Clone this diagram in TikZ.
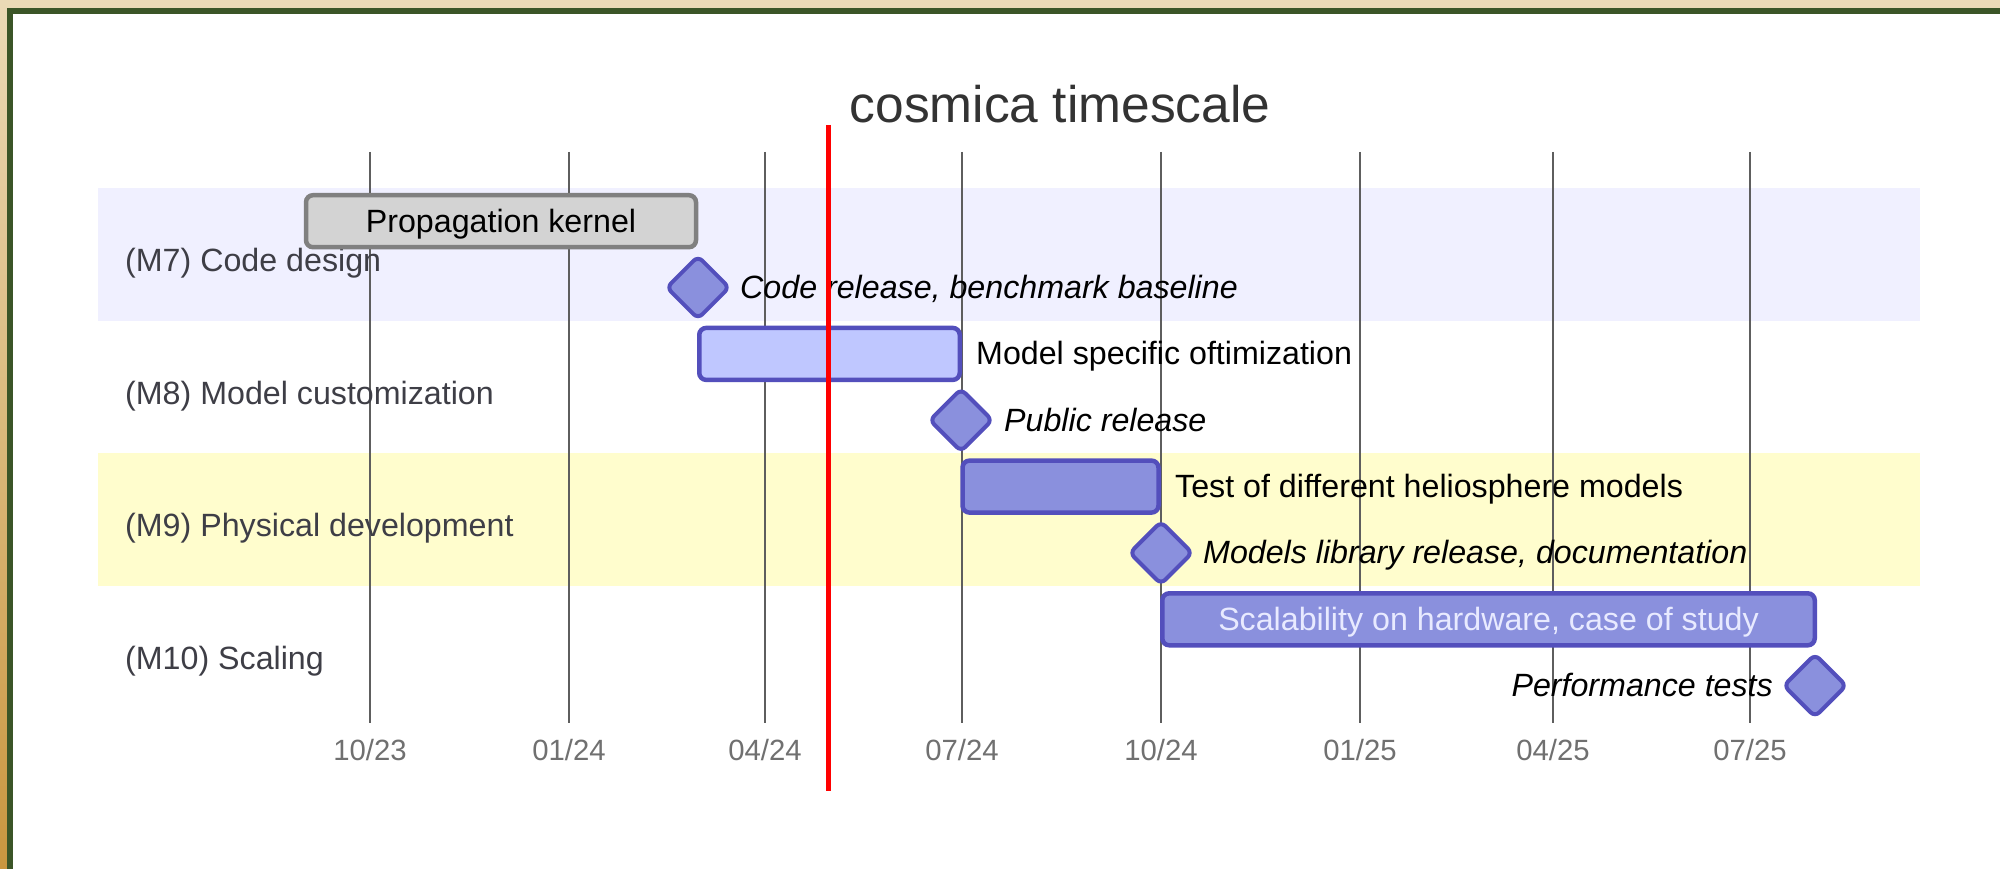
\documentclass[tikz,border=0pt]{standalone}
\usepackage{fontspec}
\setmainfont{Liberation Sans}
\definecolor{frameGreen}{HTML}{3B5527}
\definecolor{paperBeige}{HTML}{EBDAB6}
\definecolor{paperGold}{HTML}{C9963F}
\definecolor{sectA}{HTML}{F0F0FF}
\definecolor{sectC}{HTML}{FFFDCD}
\definecolor{gridGray}{HTML}{5E5E5E}
\definecolor{tickGray}{HTML}{707070}
\definecolor{titleGray}{HTML}{333333}
\definecolor{sectionGray}{HTML}{3E3E46}
\definecolor{taskFill}{HTML}{8A90DD}
\definecolor{taskStroke}{HTML}{534FBC}
\definecolor{activeFill}{HTML}{BFC7FF}
\definecolor{doneFill}{HTML}{D3D3D3}
\definecolor{doneStroke}{HTML}{808080}
\definecolor{lightText}{HTML}{E8EAFF}
\definecolor{todayRed}{HTML}{FF0000}
\begin{document}
\begin{tikzpicture}[x=1pt,y=-1pt,
  titlefont/.style={font=\fontsize{51.5}{60}\selectfont},
  taskfont/.style={font=\fontsize{32.2}{38}\selectfont},
  tickfont/.style={font=\fontsize{29.3}{34}\selectfont},
  gridline/.style={draw=gridGray, line width=1.6},
  ticklabel/.style={tickfont, text=tickGray, anchor=base, inner sep=0},
  sectionlabel/.style={taskfont, text=sectionGray, anchor=base west, inner sep=0},
  barbase/.style={rectangle, rounded corners=7, line width=4.5, minimum height=52,
    inner sep=0, taskfont},
  donebar/.style={barbase, draw=doneStroke, fill=doneFill, text=black},
  activebar/.style={barbase, draw=taskStroke, fill=activeFill},
  taskbar/.style={barbase, draw=taskStroke, fill=taskFill, text=lightText},
  milestone/.style={rectangle, rotate=45, minimum size=44, inner sep=0,
    rounded corners=6, line width=4, draw=taskStroke, fill=taskFill},
  outtext/.style={taskfont, text=black, anchor=base west, inner sep=0},
  mstext/.style={taskfont, text=black, anchor=base west, inner sep=0, font=\fontsize{32.2}{38}\selectfont\itshape},
  todayline/.style={draw=todayRed, line width=5}]
\useasboundingbox (0,0) rectangle (2000,869);

% paper, frame and white sheet
\fill[paperBeige] (0,0) rectangle (2000,869);
\shade[top color=paperBeige, bottom color=paperGold] (0,0) rectangle (7,869);
\fill[frameGreen] (7,8) rectangle (2000,869);
\fill[white] (13,14) rectangle (2000,869);

% section bands
\fill[sectA] (98,188) rectangle (1920,320.7);
\fill[sectC] (98,453.4) rectangle (1920,586.1);

% title
\node[titlefont, text=titleGray, anchor=base, inner sep=0] (title) at (1060,123) {cosmica timescale};

% time axis: grid lines and tick labels
\foreach \gx/\lab [count=\i] in {370/10\slash 23, 569/01\slash 24, 765/04\slash 24, 962/07\slash 24,
    1161/10\slash 24, 1360/01\slash 25, 1553/04\slash 25, 1750/07\slash 25} {
  \coordinate (gtop\i) at (\gx,152);
  \coordinate (gbot\i) at (\gx,723);
  \draw[gridline] (gtop\i) -- (gbot\i);
  \node[ticklabel] (tick\i) at (\gx,760) {\lab};
}

% section titles
\node[sectionlabel] (sec7)  at (125,271)   {(M7) Code design};
\node[sectionlabel] (sec8)  at (125,404)   {(M8) Model customization};
\node[sectionlabel] (sec9)  at (125,536.5) {(M9) Physical development};
\node[sectionlabel] (sec10) at (125,669)   {(M10) Scaling};

% tasks
\node[donebar, minimum width=390] (kernel) at (501,221.2) {};
\node[taskfont, text=black, anchor=base, inner sep=0] (kerneltxt) at (501,232.2) {Propagation kernel};
\node[activebar, minimum width=260.5] (modelopt) at (829.5,353.9) {};
\node[outtext] (modelopttxt) at (976,364.9) {Model specific oftimization};
\node[taskbar, minimum width=196] (helio) at (1060.5,486.6) {};
\node[outtext] (heliotxt) at (1175,497.6) {Test of different heliosphere models};
\node[taskbar, minimum width=652.5] (scal) at (1488.5,619.3) {};
\node[taskfont, text=lightText, anchor=base, inner sep=0] (scaltxt) at (1488.5,630.3) {Scalability on hardware, case of study};

% milestones
\node[milestone] (ms1) at (698,287.5) {};
\node[mstext] (ms1txt) at (740,298.5) {Code release, benchmark baseline};
\node[milestone] (ms2) at (961,420.2) {};
\node[mstext] (ms2txt) at (1004,431.2) {Public release};
\node[milestone] (ms3) at (1161,552.9) {};
\node[mstext] (ms3txt) at (1203,563.9) {Models library release, documentation};
\node[milestone] (ms4) at (1815,685.6) {};
\node[mstext, anchor=base east] (ms4txt) at (1773,696.6) {Performance tests};

% today marker
\coordinate (todaytop) at (828,125);
\coordinate (todaybot) at (828,791);
\draw[todayline] (todaytop) -- (todaybot);
\end{tikzpicture}
\end{document}
